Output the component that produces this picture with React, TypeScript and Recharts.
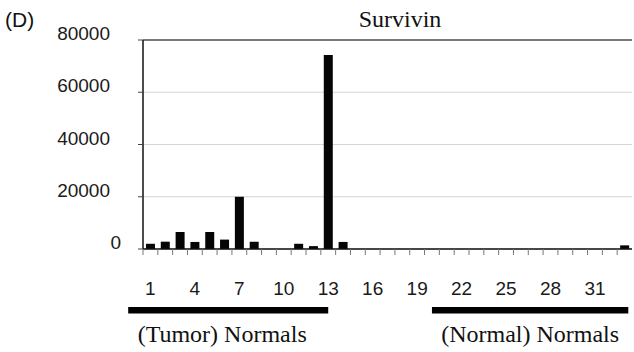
import { BarChart, Bar, XAxis, YAxis, CartesianGrid, ReferenceLine } from 'recharts';

const samples = Array.from({ length: 33 }, (_, i) => String(i + 1));
const survivin = [
  2000, 2800, 6500, 2700, 6500, 3600, 20000, 2800, 0, 0, 2000, 1100, 74300, 2700,
  0, 0, 0, 0, 0, 0, 0, 0, 0, 0, 0, 0, 0, 0, 0, 0, 0, 0, 1400,
];
const yTicks = [0, 20000, 40000, 60000, 80000];
// groups in category units (centre positions); `at` is the tick that draws it
const groups = [
  { label: '(Tumor) Normals', at: 13, from: -0.5, to: 13 },
  { label: '(Normal) Normals', at: 33, from: 20, to: 33.25 },
];

const data = samples.map((s, i) => ({ sample: s, value: survivin[i] }));

const SANS = '"Liberation Sans", Arial, sans-serif';
const SERIF = '"Liberation Serif", "Times New Roman", serif';

const YTick = (props: any) => {
  const { x, y, payload } = props;
  const isZero = payload.value === 0;
  return (
    <text
      x={isZero ? x + 11 : x}
      y={y}
      textAnchor="end"
      fontFamily={SANS}
      fontSize={19}
      fill="#1a1a1a"
    >
      {payload.value}
    </text>
  );
};

const XTick = (props: any) => {
  const { x, y, payload, index } = props;
  const half = payload.offset ?? 7.4;
  const band = half * 2;
  const group = groups.find((g) => g.at === index + 1);
  let bar = null;
  if (group) {
    const x0 = x + (group.from - group.at) * band;
    const x1 = x + (group.to - group.at) * band;
    bar = (
      <g>
        <rect x={x0} y={y + 58} width={x1 - x0} height={6.5} fill="#000" />
        <text
          x={(x0 + x1) / 2 - (group.from < 0 ? 6 : 0)}
          y={y + 93}
          textAnchor="middle"
          fontFamily={SERIF}
          fontSize={24}
          fill="#111"
        >
          {group.label}
        </text>
      </g>
    );
  }
  return (
    <g>
      <line x1={x - half} x2={x - half} y1={y} y2={y + 6} stroke="#777" strokeWidth={1} />
      {index % 3 === 0 && (
        <text x={x} y={y + 46} textAnchor="middle" fontFamily={SANS} fontSize={19} fill="#1a1a1a">
          {payload.value}
        </text>
      )}
      {bar}
    </g>
  );
};

export default function App() {
  return (
    <div style={{ position: 'absolute', left: 0, top: 0, width: 634, height: 352, background: '#fff' }}>
      <div
        style={{
          position: 'absolute',
          left: 5,
          top: 9,
          fontFamily: SANS,
          fontSize: 21,
          color: '#111',
          lineHeight: 1,
        }}
      >
        (D)
      </div>
      <div
        style={{
          position: 'absolute',
          left: 300,
          width: 200,
          top: 7,
          textAlign: 'center',
          fontFamily: SERIF,
          fontSize: 24,
          color: '#111',
          lineHeight: 1,
        }}
      >
        Survivin
      </div>
      <BarChart
        width={634}
        height={352}
        data={data}
        margin={{ top: 40, right: 2, bottom: 52, left: 0 }}
        barCategoryGap="20%"
      >
        <CartesianGrid horizontal vertical={false} stroke="#d4d4d4" />
        <XAxis
          dataKey="sample"
          interval={0}
          tickLine={false}
          tickSize={0}
          tickMargin={0}
          height={51}
          axisLine={{ stroke: '#111', strokeWidth: 1.5 }}
          tick={<XTick />}
        />
        <YAxis
          domain={[0, 80000]}
          ticks={yTicks}
          width={143}
          tickSize={5}
          tickMargin={28}
          tickLine={{ stroke: '#444' }}
          axisLine={{ stroke: '#111', strokeWidth: 1.5 }}
          tick={<YTick />}
        />
        <YAxis
          yAxisId="right"
          orientation="right"
          width={0}
          tick={false}
          tickLine={false}
          axisLine={{ stroke: '#e2e2e2' }}
        />
        <ReferenceLine y={80000} stroke="#555" strokeWidth={1.5} />
        <Bar dataKey="value" fill="#050505" isAnimationActive={false} />
      </BarChart>
    </div>
  );
}
